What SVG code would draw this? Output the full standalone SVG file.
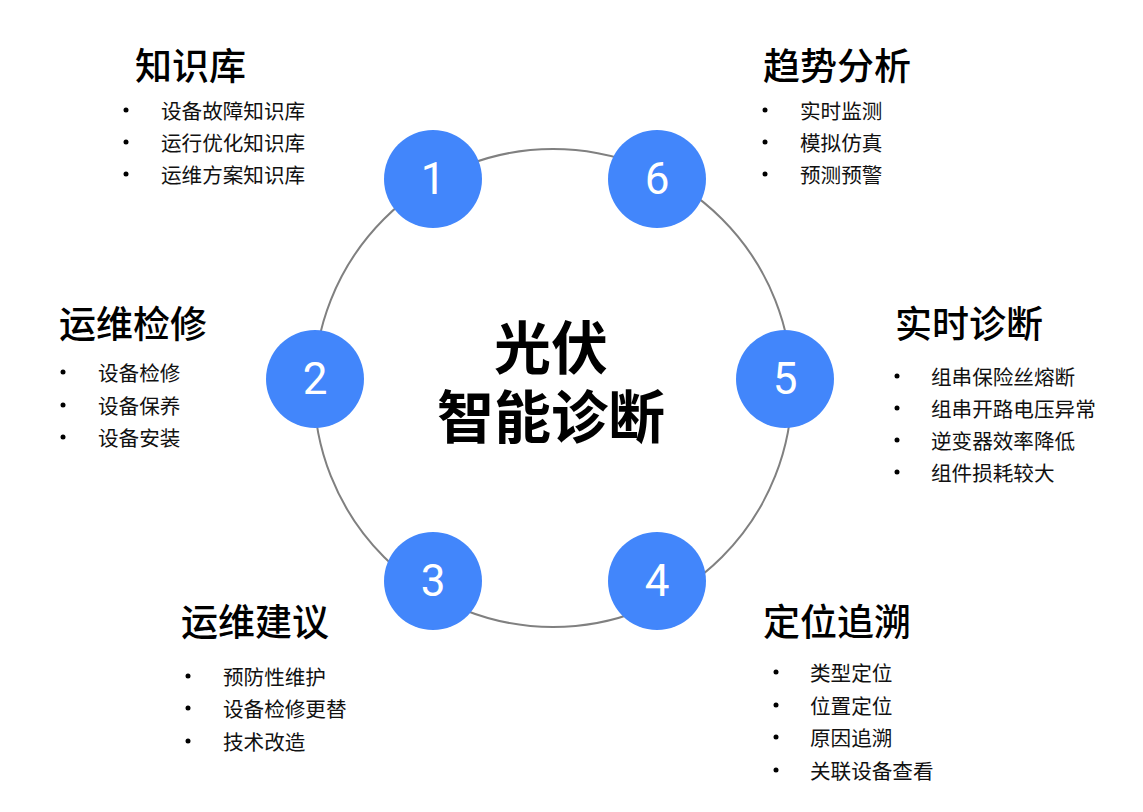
<svg xmlns="http://www.w3.org/2000/svg" width="1143" height="812" viewBox="0 0 1143 812">
<style>
.ring{fill:none;stroke:#808080;stroke-width:2}
.node{fill:#4286FB}
.num{fill:#fff;font-family:Roboto,"Liberation Sans",sans-serif;font-size:44px;text-anchor:middle;dominant-baseline:central}
.title{fill:#000;font-family:"Noto Sans CJK SC","Noto Sans",sans-serif;font-size:37px;font-weight:500;dominant-baseline:central}
.item{fill:#111;font-family:"Noto Sans CJK SC","Noto Sans",sans-serif;font-size:20.6px;dominant-baseline:central}
.dot{fill:#000}
.center{fill:#000;font-family:"Noto Sans CJK SC","Noto Sans",sans-serif;font-size:57px;font-weight:700;text-anchor:middle;dominant-baseline:central}
</style>
<rect width="1143" height="812" fill="#fff"/>
<g id="connectors">
<circle class="ring" cx="553" cy="388" r="239"/>
</g>
<g id="center">
<text class="center"><tspan x="551" y="344">光伏</tspan><tspan x="551" y="413">智能诊断</tspan></text>
</g>
<g id="node1">
<circle class="node" cx="433" cy="179" r="49"/>
<text class="num" x="433" y="179">1</text>
<text class="title" x="135" y="64">知识库</text>
<circle class="dot" cx="126" cy="110" r="2.5"/><text class="item" x="161" y="110">设备故障知识库</text>
<circle class="dot" cx="126" cy="142" r="2.5"/><text class="item" x="161" y="142">运行优化知识库</text>
<circle class="dot" cx="126" cy="174" r="2.5"/><text class="item" x="161" y="174">运维方案知识库</text>
</g>
<g id="node6">
<circle class="node" cx="657" cy="179" r="49"/>
<text class="num" x="657" y="179">6</text>
<text class="title" x="763" y="64">趋势分析</text>
<circle class="dot" cx="765" cy="110" r="2.5"/><text class="item" x="800" y="110">实时监测</text>
<circle class="dot" cx="765" cy="142" r="2.5"/><text class="item" x="800" y="142">模拟仿真</text>
<circle class="dot" cx="765" cy="174" r="2.5"/><text class="item" x="800" y="174">预测预警</text>
</g>
<g id="node2">
<circle class="node" cx="315" cy="379" r="49"/>
<text class="num" x="315" y="379">2</text>
<text class="title" x="59" y="322">运维检修</text>
<circle class="dot" cx="63" cy="372" r="2.5"/><text class="item" x="98" y="372">设备检修</text>
<circle class="dot" cx="63" cy="405" r="2.5"/><text class="item" x="98" y="405">设备保养</text>
<circle class="dot" cx="63" cy="437" r="2.5"/><text class="item" x="98" y="437">设备安装</text>
</g>
<g id="node5">
<circle class="node" cx="785" cy="379" r="49"/>
<text class="num" x="785" y="379">5</text>
<text class="title" x="895" y="322">实时诊断</text>
<circle class="dot" cx="897" cy="376" r="2.5"/><text class="item" x="931" y="376">组串保险丝熔断</text>
<circle class="dot" cx="897" cy="408" r="2.5"/><text class="item" x="931" y="408">组串开路电压异常</text>
<circle class="dot" cx="897" cy="440" r="2.5"/><text class="item" x="931" y="440">逆变器效率降低</text>
<circle class="dot" cx="897" cy="472" r="2.5"/><text class="item" x="931" y="472">组件损耗较大</text>
</g>
<g id="node3">
<circle class="node" cx="433" cy="581" r="49"/>
<text class="num" x="433" y="581">3</text>
<text class="title" x="181" y="620">运维建议</text>
<circle class="dot" cx="188" cy="676" r="2.5"/><text class="item" x="223" y="676">预防性维护</text>
<circle class="dot" cx="188" cy="708" r="2.5"/><text class="item" x="223" y="708">设备检修更替</text>
<circle class="dot" cx="188" cy="741" r="2.5"/><text class="item" x="223" y="741">技术改造</text>
</g>
<g id="node4">
<circle class="node" cx="657" cy="581" r="49"/>
<text class="num" x="657" y="581">4</text>
<text class="title" x="763" y="620">定位追溯</text>
<circle class="dot" cx="776" cy="672" r="2.5"/><text class="item" x="810" y="672">类型定位</text>
<circle class="dot" cx="776" cy="705" r="2.5"/><text class="item" x="810" y="705">位置定位</text>
<circle class="dot" cx="776" cy="737" r="2.5"/><text class="item" x="810" y="737">原因追溯</text>
<circle class="dot" cx="776" cy="770" r="2.5"/><text class="item" x="810" y="770">关联设备查看</text>
</g>
</svg>
